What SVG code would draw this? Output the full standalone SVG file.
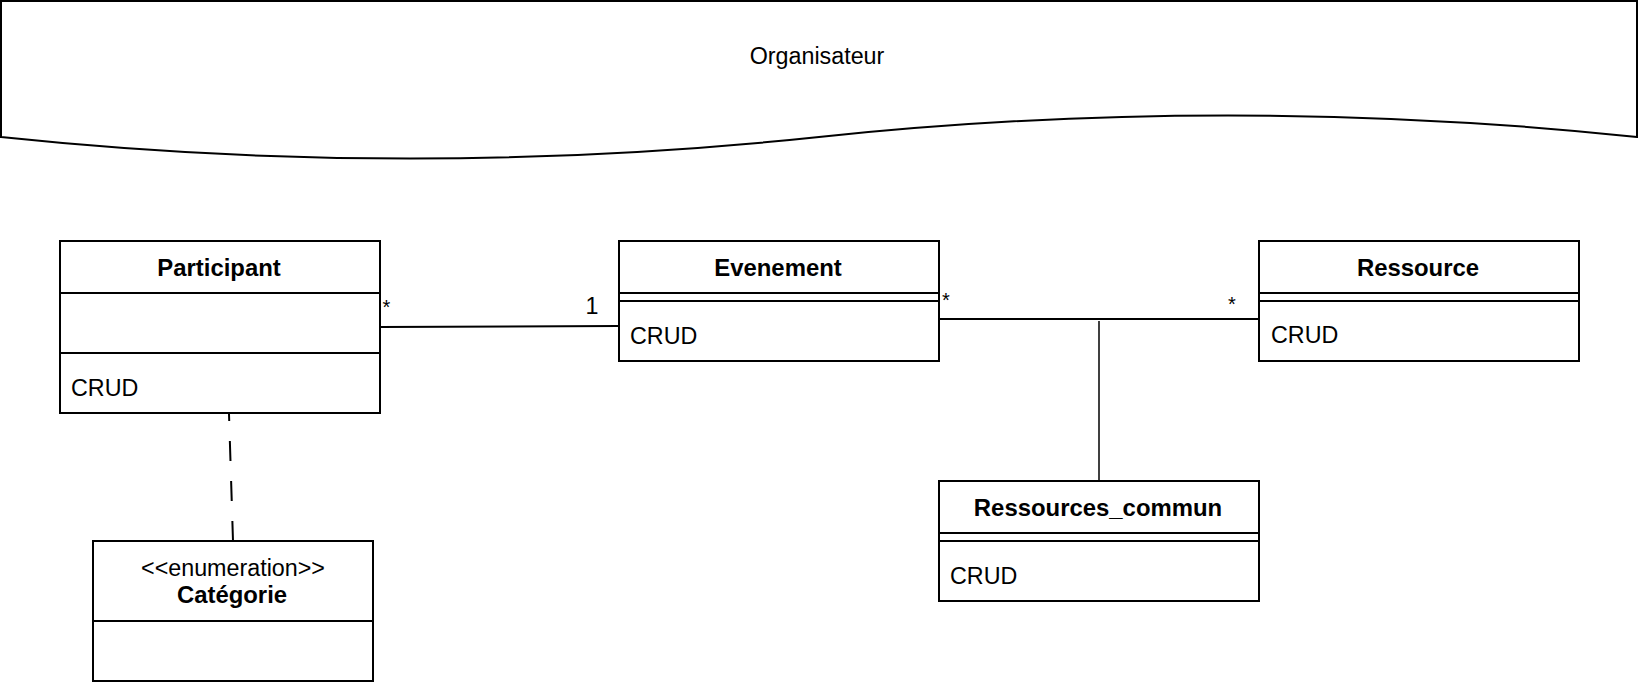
<svg xmlns="http://www.w3.org/2000/svg" width="1640" height="684" viewBox="0 0 1640 684">
<style>
.box{fill:#fff;stroke:#000;stroke-width:2}
.ln{fill:none;stroke:#000;stroke-width:2}
.t{font-family:"Liberation Sans",Arial,Helvetica,sans-serif;font-size:23.3px;fill:#000}
.b{font-weight:bold;text-anchor:middle;font-size:23.9px}
.c{text-anchor:middle}
.lbl{font-family:"Liberation Sans",Arial,Helvetica,sans-serif;font-size:20px;fill:#000}
</style>
<rect width="1640" height="684" fill="#fff"/>
<g id="organisateur">
<path class="box" d="M1,1 H1637 V137 Q1228,93.8 819,137 Q410,180.2 1,137 Z"/>
<text class="t c" x="817" y="64">Organisateur</text>
</g>
<g id="connectors">
<path class="ln" d="M380,327 L619,326"/>
<path class="ln" d="M939,319 L1259,319"/>
<path class="ln" style="stroke-width:1.5" d="M1099,321 L1099,481"/>
<path class="ln" stroke-dasharray="20 20" d="M233,541 L229,414"/>
<text class="lbl" x="382.5" y="314">*</text>
<text class="t" x="585.5" y="314">1</text>
<text class="lbl" x="942" y="307">*</text>
<text class="lbl" x="1228" y="311">*</text>
</g>
<g id="participant">
<rect class="box" x="60" y="241" width="320" height="172"/>
<path class="ln" d="M60,293 H380 M60,353 H380"/>
<text class="t b" x="219" y="276">Participant</text>
<text class="t" x="71" y="396">CRUD</text>
</g>
<g id="evenement">
<rect class="box" x="619" y="241" width="320" height="120"/>
<path class="ln" d="M619,293 H939 M619,301 H939"/>
<text class="t b" x="778" y="276">Evenement</text>
<text class="t" x="630" y="344">CRUD</text>
</g>
<g id="ressource">
<rect class="box" x="1259" y="241" width="320" height="120"/>
<path class="ln" d="M1259,293 H1579 M1259,301 H1579"/>
<text class="t b" x="1418" y="276">Ressource</text>
<text class="t" x="1271" y="343">CRUD</text>
</g>
<g id="ressources_commun">
<rect class="box" x="939" y="481" width="320" height="120"/>
<path class="ln" d="M939,533 H1259 M939,541 H1259"/>
<text class="t b" x="1098" y="516">Ressources_commun</text>
<text class="t" x="950" y="584">CRUD</text>
</g>
<g id="categorie">
<rect class="box" x="93" y="541" width="280" height="140"/>
<path class="ln" d="M93,621 H373"/>
<text class="t c" x="233" y="576">&lt;&lt;enumeration&gt;&gt;</text>
<text class="t b" x="232" y="603">Catégorie</text>
</g>
</svg>
